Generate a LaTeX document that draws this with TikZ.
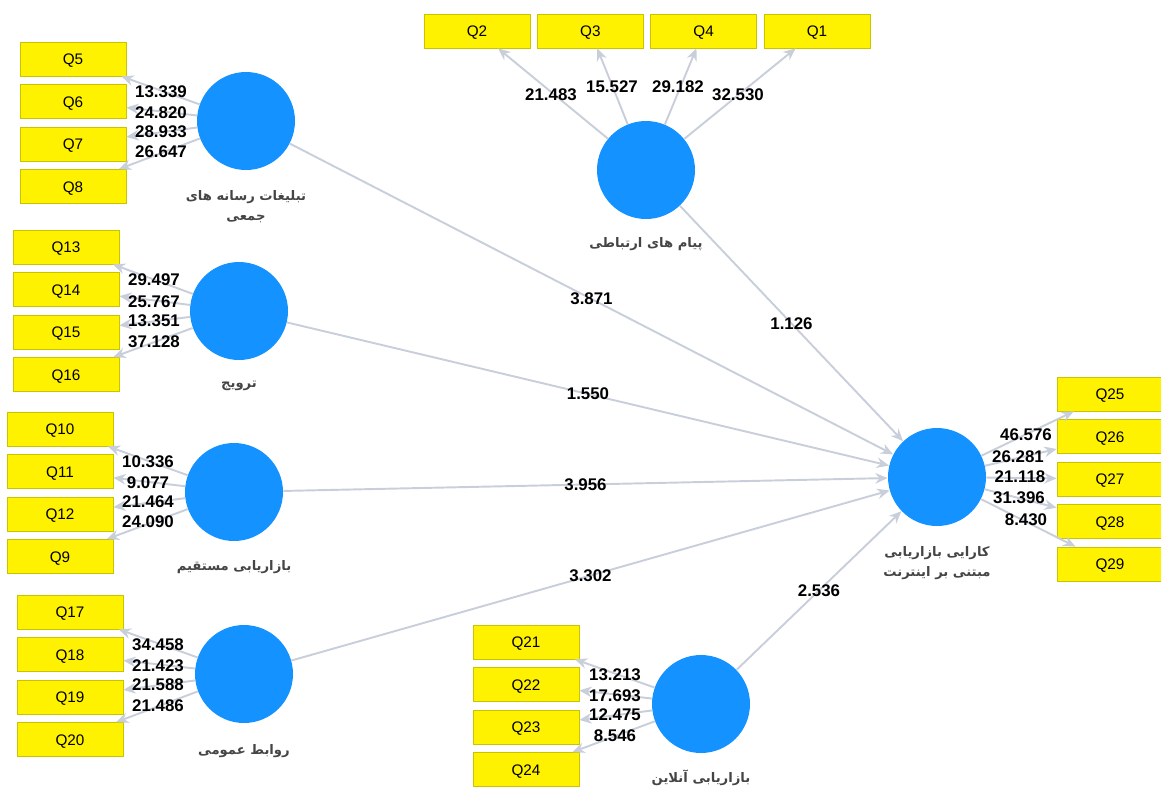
\documentclass[tikz,border=0pt]{standalone}
\usepackage{fontspec}
\setmainfont{Liberation Sans}
\newfontfamily\farsifont[Script=Arabic]{DejaVu Sans}
\TeXXeTstate=1
\usepackage{tikz}
\usetikzlibrary{positioning, arrows.meta, shapes}
\definecolor{lvblue}{HTML}{1492FF}
\definecolor{boxline}{HTML}{C8C400}
\definecolor{pathgray}{HTML}{C8CFDB}
\definecolor{lvtext}{HTML}{454545}
\tikzstyle{indicator} = [rectangle, minimum width=2.12cm, minimum height=0.68cm, text centered, text height=6.3pt, text depth=0pt, draw=boxline, fill=yellow, font=\fontsize{8.7}{10}\selectfont]
\tikzstyle{construct} = [circle, minimum size=1.96cm, inner sep=0pt, fill=lvblue]
\tikzstyle{lvname} = [text=lvtext, align=center, font=\farsifont\bfseries\fontsize{7.5}{11.5}\selectfont]
\tikzstyle{coef} = [font=\bfseries\fontsize{9.6}{11}\selectfont, inner sep=1pt]
\tikzstyle{arrow} = [line width=1.1pt, draw=pathgray, ->, >={Stealth[length=7pt,width=6pt]}]

\begin{document}
\begin{tikzpicture}[x=0.02cm, y=-0.02cm, node distance=0.85cm]
\useasboundingbox (0,0) rectangle (1161,789);

% constructs
\node (media) [construct] at (246,121) {};
\node (message) [construct] at (646,170) {};
\node (promo) [construct] at (239,311) {};
\node (direct) [construct] at (234,492) {};
\node (pr) [construct] at (244,674) {};
\node (online) [construct] at (701,704) {};
\node (perf) [construct] at (937,477) {};

\node (medianame) [lvname] at (246,207) {\beginR تبلیغات رسانه های\endR\\\beginR جمعی\endR};
\node (messagename) [lvname] at (646,244) {\beginR پیام های ارتباطی\endR};
\node (promoname) [lvname] at (239,386) {\beginR ترویج\endR};
\node (directname) [lvname] at (234,567) {\beginR بازاریابی مستقیم\endR};
\node (prname) [lvname] at (244,751) {\beginR روابط عمومی\endR};
\node (onlinename) [lvname] at (701,778) {\beginR بازاریابی آنلاین\endR};
\node (perfname) [lvname] at (937,563) {\beginR کارایی بازاریابی\endR\\\beginR مبتنی بر اینترنت\endR};

% indicators
\node (q5) [indicator] at (73,59) {Q5};
\node (q6) [indicator, below of=q5] {Q6};
\node (q7) [indicator, below of=q6] {Q7};
\node (q8) [indicator, below of=q7] {Q8};

\node (q2) [indicator] at (477,31) {Q2};
\node (q3) [indicator, right of=q2, node distance=2.267cm] {Q3};
\node (q4) [indicator, right of=q3, node distance=2.267cm] {Q4};
\node (q1) [indicator, right of=q4, node distance=2.267cm] {Q1};

\node (q13) [indicator] at (66,247) {Q13};
\node (q14) [indicator, below of=q13] {Q14};
\node (q15) [indicator, below of=q14] {Q15};
\node (q16) [indicator, below of=q15] {Q16};

\node (q10) [indicator] at (60,429) {Q10};
\node (q11) [indicator, below of=q10] {Q11};
\node (q12) [indicator, below of=q11] {Q12};
\node (q9) [indicator, below of=q12] {Q9};

\node (q17) [indicator] at (70,612) {Q17};
\node (q18) [indicator, below of=q17] {Q18};
\node (q19) [indicator, below of=q18] {Q19};
\node (q20) [indicator, below of=q19] {Q20};

\node (q21) [indicator] at (526,642) {Q21};
\node (q22) [indicator, below of=q21] {Q22};
\node (q23) [indicator, below of=q22] {Q23};
\node (q24) [indicator, below of=q23] {Q24};

\node (q25) [indicator] at (1110,394) {Q25};
\node (q26) [indicator, below of=q25] {Q26};
\node (q27) [indicator, below of=q26] {Q27};
\node (q28) [indicator, below of=q27] {Q28};
\node (q29) [indicator, below of=q28] {Q29};

% outer model
\draw [arrow] (media) -- (q5);
\draw [arrow] (media) -- (q6);
\draw [arrow] (media) -- (q7);
\draw [arrow] (media) -- (q8);
\draw [arrow] (message) -- (q2);
\draw [arrow] (message) -- (q3);
\draw [arrow] (message) -- (q4);
\draw [arrow] (message) -- (q1);
\draw [arrow] (promo) -- (q13);
\draw [arrow] (promo) -- (q14);
\draw [arrow] (promo) -- (q15);
\draw [arrow] (promo) -- (q16);
\draw [arrow] (direct) -- (q10);
\draw [arrow] (direct) -- (q11);
\draw [arrow] (direct) -- (q12);
\draw [arrow] (direct) -- (q9);
\draw [arrow] (pr) -- (q17);
\draw [arrow] (pr) -- (q18);
\draw [arrow] (pr) -- (q19);
\draw [arrow] (pr) -- (q20);
\draw [arrow] (online) -- (q21);
\draw [arrow] (online) -- (q22);
\draw [arrow] (online) -- (q23);
\draw [arrow] (online) -- (q24);
\draw [arrow] (perf) -- (q25);
\draw [arrow] (perf) -- (q26);
\draw [arrow] (perf) -- (q27);
\draw [arrow] (perf) -- (q28);
\draw [arrow] (perf) -- (q29);

% inner model
\draw [arrow] (media) -- node[coef] (t1) {3.871} (perf);
\draw [arrow] (message) -- node[coef] (t2) {1.126} (perf);
\draw [arrow] (promo) -- node[coef] (t3) {1.550} (perf);
\draw [arrow] (direct) -- node[coef] (t4) {3.956} (perf);
\draw [arrow] (pr) -- node[coef] (t5) {3.302} (perf);
\draw [arrow] (online) -- node[coef] (t6) {2.536} (perf);

% loadings
\node (l5) [coef] at (161,92) {13.339};
\node (l6) [coef] at (161,113) {24.820};
\node (l7) [coef] at (161,132) {28.933};
\node (l8) [coef] at (161,152) {26.647};

\node (l2) [coef] at (551,95) {21.483};
\node (l3) [coef] at (612,87) {15.527};
\node (l4) [coef] at (678,87) {29.182};
\node (l1) [coef] at (738,95) {32.530};

\node (l13) [coef] at (154,280) {29.497};
\node (l14) [coef] at (154,302) {25.767};
\node (l15) [coef] at (154,321) {13.351};
\node (l16) [coef] at (154,342) {37.128};

\node (l10) [coef] at (148,462) {10.336};
\node (l11) [coef] at (148,483) {9.077};
\node (l12) [coef] at (148,502) {21.464};
\node (l9) [coef] at (148,522) {24.090};

\node (l17) [coef] at (158,645) {34.458};
\node (l18) [coef] at (158,666) {21.423};
\node (l19) [coef] at (158,685) {21.588};
\node (l20) [coef] at (158,706) {21.486};

\node (l21) [coef] at (615,675) {13.213};
\node (l22) [coef] at (615,696) {17.693};
\node (l23) [coef] at (615,715) {12.475};
\node (l24) [coef] at (615,736) {8.546};

\node (l25) [coef] at (1026,435) {46.576};
\node (l26) [coef] at (1018,457) {26.281};
\node (l27) [coef] at (1020,477) {21.118};
\node (l28) [coef] at (1019,498) {31.396};
\node (l29) [coef] at (1026,520) {8.430};

\end{tikzpicture}
\end{document}
